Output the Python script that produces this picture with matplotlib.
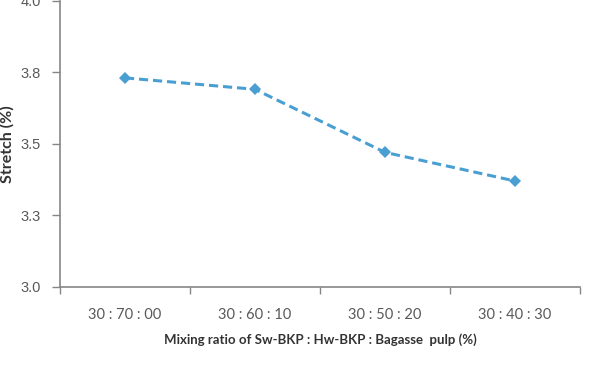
import matplotlib.pyplot as plt

# data
ratios = ['30 : 70 : 00', '30 : 60 : 10', '30 : 50 : 20', '30 : 40 : 30']
stretch = [3.73, 3.69, 3.47, 3.37]
y_ticks = [3.0, 3.25, 3.5, 3.75, 4.0]
y_labels = ['3.0', '3.3', '3.5', '3.8', '4.0']

gray = '#868686'
text_gray = '#595959'

fig = plt.figure(figsize=(5.97, 3.67), dpi=100)
ax = fig.add_axes([0.1005, 0.218, 0.871, 0.7806])

x = list(range(len(ratios)))
ax.plot(x, stretch, color='#4A9FD2', linestyle=(0, (3, 1.6)), linewidth=2.2,
        marker='D', markersize=6.5, markeredgewidth=0)

ax.set_xlim(-0.5, len(ratios) - 0.5)
ax.set_ylim(3.0, 4.0)

ax.set_yticks(y_ticks)
ax.set_yticklabels(y_labels, family='Liberation Sans')
ax.set_xticks(x)
ax.set_xticklabels(ratios, family='Lato')
# tick marks between categories, labels at centres
ax.set_xticks([i - 0.5 for i in range(len(ratios) + 1)], minor=True)
ax.tick_params(axis='x', which='major', length=0, pad=15, labelsize=10.5, labelcolor=text_gray)
ax.tick_params(axis='x', which='minor', length=5, width=1, color=gray, direction='out')
ax.tick_params(axis='y', length=6, width=1, color=gray, pad=8, labelsize=10.5, labelcolor=text_gray)

for side in ['top', 'right']:
    ax.spines[side].set_visible(False)
for side in ['left', 'bottom']:
    ax.spines[side].set_color(gray)
    ax.spines[side].set_linewidth(1.2)

ax.set_xlabel('Mixing ratio of Sw-BKP : Hw-BKP : Bagasse  pulp (%)', fontsize=9.5,
              fontweight='bold', color='#333333', labelpad=8, family='Lato')
ax.set_ylabel('Stretch (%)', fontsize=11.5, fontweight='bold', color='#333333', family='Lato')
ax.yaxis.set_label_coords(-0.088, 0.5)

fig.savefig('out.png', dpi=100)
